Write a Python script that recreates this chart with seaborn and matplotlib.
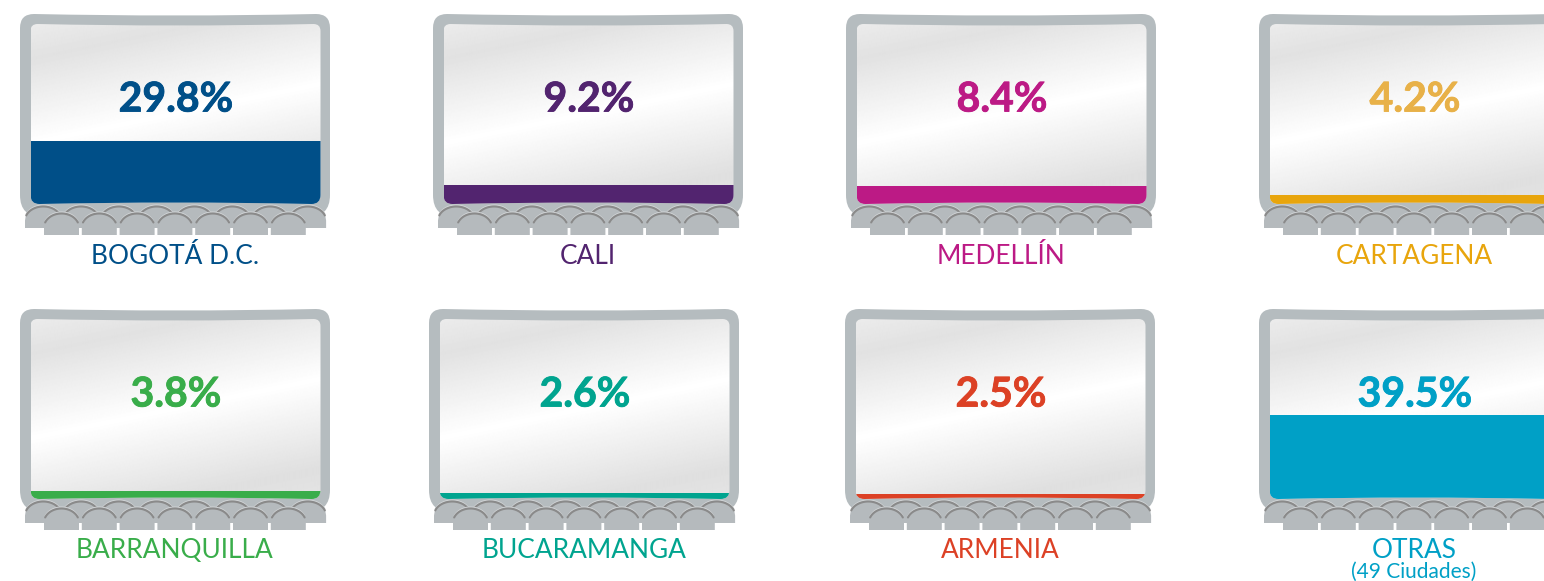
import numpy as np
import pandas as pd
import matplotlib
matplotlib.use("Agg")
import matplotlib.pyplot as plt
import matplotlib.patheffects as pe
from matplotlib.path import Path
from matplotlib.patches import PathPatch, Polygon
import seaborn as sns

# data
cities = ["BOGOTÁ D.C.", "CALI", "MEDELLÍN", "CARTAGENA",
          "BARRANQUILLA", "BUCARAMANGA", "ARMENIA", "OTRAS"]
shares = [29.8, 9.2, 8.4, 4.2, 3.8, 2.6, 2.5, 39.5]
colors = ["#004f88", "#52246f", "#bc1a85", "#e8a50c",
          "#39ad4a", "#00a48f", "#dc4125", "#00a0c6"]
pct_colors = ["#004f88", "#52246f", "#bc1a85", "#e8b148",
              "#39ad4a", "#00a48f", "#dc4125", "#00a0c6"]

# layout in pixels of the 1544x581 picture
W, H = 1544, 581
panel_x = [20, 433, 846, 1259, 20, 429, 845, 1259]
panel_y = [14, 14, 14, 14, 309, 309, 309, 309]
frame_color = "#b5bcbf"
seat_color = "#b5babd"
arc_color = "#8a8a8a"
y_top_share = 85  # share that fills the whole screen height

sns.set_theme(style="white")
plt.rcParams['font.family'] = ['Lato', 'DejaVu Sans']


def screen_path(x0, y0, x1, y1, r_top, r_bot, sag_top, sag_bot):
    xm = (x0 + x1) / 2
    verts = [(x0 + r_top, y0),
             (xm, y0 + 2 * sag_top), (x1 - r_top, y0),
             (x1, y0), (x1, y0 + r_top),
             (x1, y1 - r_bot),
             (x1, y1), (x1 - r_bot, y1),
             (xm, y1 - 2 * sag_bot), (x0 + r_bot, y1),
             (x0, y1), (x0, y1 - r_bot),
             (x0, y0 + r_top),
             (x0, y0), (x0 + r_top, y0)]
    codes = [Path.MOVETO,
             Path.CURVE3, Path.CURVE3,
             Path.CURVE3, Path.CURVE3,
             Path.LINETO,
             Path.CURVE3, Path.CURVE3,
             Path.CURVE3, Path.CURVE3,
             Path.CURVE3, Path.CURVE3,
             Path.LINETO,
             Path.CURVE3, Path.CURVE3]
    return Path(verts, codes)


def seat(ax, x, top, w, bottom, z):
    # dome shaped seat back with a darker rim on top
    u = np.linspace(-1, 1, 61)
    dome_x = x + (u + 1) * w / 2
    dome_y = top + 14 * (1 - (1 - np.abs(u) ** 2.0) ** (1 / 2.0))
    pts = np.column_stack([dome_x, dome_y])
    pts = np.vstack([[x, bottom], pts, [x + w, bottom]])
    ax.add_patch(Polygon(pts, closed=True, fc=seat_color, ec="none", zorder=z))
    keep = np.abs(u) < 0.95
    ax.plot(dome_x[keep], dome_y[keep] - 1.4, color="#d2d5d7", lw=0.9, zorder=z + 0.1)
    ax.plot(dome_x[keep], dome_y[keep], color=arc_color, lw=1.5, zorder=z + 0.2,
            solid_capstyle="round")


def sheen(nx=300, ny=180):
    # diagonal light band on the screen
    xx, yy = np.meshgrid(np.linspace(0, 1, nx), np.linspace(0, 1, ny))
    t = yy + 0.33 * (xx - 0.5)
    stops = [-0.2, 0.03, 0.5, 1.0, 1.2]
    greys = [0.93, 0.885, 1.0, 0.875, 0.90]
    return np.interp(t, stops, greys)


fig = plt.figure(figsize=(W / 100, H / 100), dpi=100)
bg = fig.add_axes([0, 0, 1, 1], zorder=0)

for i, (city, share, col) in enumerate(zip(cities, shares, colors)):
    px, py = panel_x[i], panel_y[i]
    cx = px + 155
    # frame and screen
    bg.add_patch(PathPatch(screen_path(px, py, px + 310, py + 203, 14, 22, 1.5, 1.0),
                           fc=frame_color, ec="none", zorder=1))
    inner = screen_path(px + 10.5, py + 10, px + 300.5, py + 190, 7, 9, 1.5, 1.5)
    im = bg.imshow(sheen(), cmap="gray", vmin=0, vmax=1, aspect="auto", zorder=2,
                   extent=(px + 10.5, px + 300.5, py + 190, py + 10))
    im.set_clip_path(inner, bg.transData)

    # seats
    for k in range(8):
        seat(bg, px + 5 + k * 37.8, py + 192.5, 36.5, py + 214, 3 + k * 0.01)
    for k in range(7):
        seat(bg, px + 24 + k * 37.8, py + 199.5, 35, py + 221, 4 + k * 0.01)

    # bar, one small axes per screen
    left, right = (px + 10.5) / W, (px + 300.5) / W
    bottom, top = 1 - (py + 190) / H, 1 - (py + 10) / H
    ax = fig.add_axes([left, bottom, right - left, top - bottom], zorder=1)
    df = pd.DataFrame({"city": [city], "share": [share]})
    sns.barplot(data=df, x="city", y="share", color=col, saturation=1, width=1,
                linewidth=0, ax=ax)
    ax.set_xlim(-0.5, 0.5)
    ax.set_ylim(0, y_top_share)
    ax.axis("off")
    for bar in ax.patches:
        bar.set_clip_path(inner, bg.transData)

    # texts
    t = bg.text(cx + 1, py + 86, f"{share}%", color=pct_colors[i], fontsize=29.5,
                fontweight="bold", ha="center", va="center", zorder=6)
    t.set_path_effects([pe.withStroke(linewidth=0.6, foreground=pct_colors[i])])
    bg.text(cx, py + 242 - (1 if i > 3 else 0), city, color=col, fontsize=18.9,
            ha="center", va="center", zorder=6)

bg.text(1414, 572, "(49 Ciudades)", color=colors[7], fontsize=15, ha="center",
        va="center", zorder=6)

bg.set_xlim(0, W)
bg.set_ylim(H, 0)
bg.axis("off")

fig.savefig("out.png", dpi=100, facecolor="white")
